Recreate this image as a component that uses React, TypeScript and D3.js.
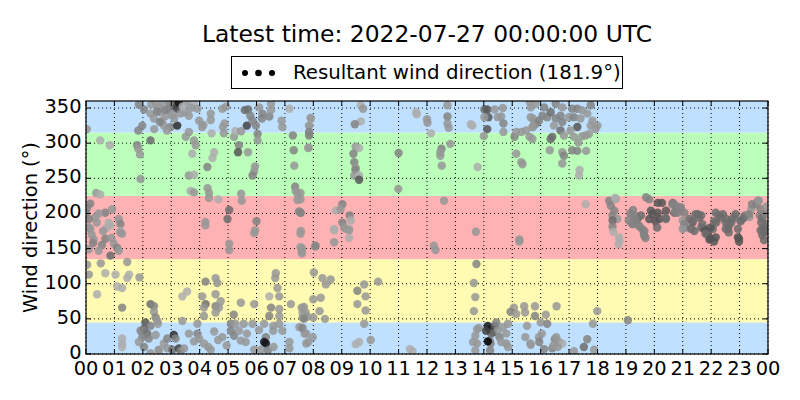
import React from 'react';
import * as d3 from 'd3';

// ---------- data ----------
const titleText = 'Latest time: 2022-07-27 00:00:00 UTC';
const legendText = 'Resultant wind direction (181.9°)';
const yLabel = 'Wind direction (°)';

const hourTicks: number[] = d3.range(0, 25);
const hourLabels: string[] = hourTicks.map((h) => String(h % 24).padStart(2, '0'));
const dirTicks: number[] = [0, 50, 100, 150, 200, 250, 300, 350];

const sectorBounds: number[] = [0, 45, 135, 225, 315, 360];
const sectorColors: string[] = ['#bfe0ff', '#fffbb3', '#ffb2b3', '#bbffbb', '#bfe0ff'];

// [hour, direction (deg), wind speed]
type Obs = [number, number, number];

const obs00to02: Obs[] = [
  [0.03,320,3],[0.5,304,2],[0.84,297,2],
  [0.36,229,3],[0.5,227,2],[0.15,214,4],[0.04,208,4],
  [0.0,201,4],[0.32,194,3],[0.68,201,4],[0.92,206,3],[0.1,192,4],[0.38,187,3],[0.8,187,2],[1.15,192,3],[1.21,185,4],[0.15,178,3],[0.74,180,2],[1.2,175,2],
  [0.1,180,3],[0.86,183,2],[1.21,173,3],[0.27,163,3],[0.68,164,4],[0.98,157,3],[0.56,155,4],[1.1,151,4],[0.1,149,3],[0.45,147,3],[0.86,140,5],[1.15,147,3],[1.45,131,3],[0.04,127,3],[0.52,129,3],[1.27,171,3],
  [0.2,170,3],[0.6,175,3],[0.9,165,3],[0.45,200,3],[0.25,158,4],
  [0.1,113,3],[0.68,115,2],[1.04,113,2],[1.52,113,2],[1.45,108,2],[1.1,96,2],[1.27,94,2],[0.39,85,2],[1.27,66,4],[1.88,109,3],
  [1.27,22,2],[1.27,15,2],[1.27,10,2],
  [1.86,355,4],[1.98,325,4],[1.84,318,4],[2.27,304,5],[1.8,297,4],[1.84,292,3],[1.9,284,3],[1.92,249,3],
];

const obs02to04: Obs[] = [
  [2.04,348,4],[2.27,342,3],[2.39,335,3],[2.56,351,3],[2.62,344,3],[2.68,332,3],[2.74,325,3],[2.82,339,3],[2.92,349,4],[2.98,323,4],[3.09,354,5],[3.15,356,7],[3.2,349,7],[3.21,325,8],[3.27,358,9],[3.33,342,3],[3.48,344,3],[3.62,339,3],[3.56,358,3],[3.8,358,2],[3.92,349,3],[3.98,332,3],[3.62,316,3],[3.51,309,3],[3.8,304,3],[3.86,297,3],[3.74,285,2],[3.62,254,3],[3.8,255,2],[3.68,232,2],[3.8,230,3],
  [2.3,355,3],[2.45,358,3],[2.5,345,4],[2.7,355,3],[2.8,347,4],[2.95,358,4],[3.05,340,3],[2.6,330,4],[2.4,320,3],[2.85,318,3],[3.1,335,3],[3.4,352,2],[3.7,350,3],
  [2.09,45,6],[2.27,40,4],[2.04,36,5],[1.92,33,4],[2.16,29,5],[1.98,24,4],[2.21,22,4],[1.86,17,3],[2.04,10,4],[2.45,27,3],[2.56,6,3],[2.74,15,3],[2.86,22,4],[3.09,27,8],[3.15,22,4],[2.86,8,3],[3.04,6,5],[3.27,8,7],[3.33,4,4],[3.45,8,3],[3.62,29,3],[3.8,18,3],[3.92,43,3],[3.92,29,4],[3.98,22,3],[2.27,1,3],[2.56,5,3],
  [2.27,71,5],[2.39,68,4],[2.39,60,3],[2.45,52,4],[2.51,47,3],[2.53,43,3],[3.39,82,2],[3.56,89,2],[3.39,47,3],
];

const obs04to06: Obs[] = [
  [4.09,323,3],[4.39,342,3],[4.39,333,3],[4.13,326,3],[4.42,314,2],[4.51,287,2],[4.45,279,2],[4.27,266,4],[4.28,236,3],[4.33,229,3],[4.33,222,3],[4.66,220,2],[4.8,349,3],[4.93,352,3],[4.82,323,3],[4.88,328,3],[4.85,314,3],[5.21,309,3],[5.26,317,2],[5.38,297,4],[5.35,287,6],[5.46,317,3],[5.7,287,3],[5.59,347,5],[5.7,348,5],[5.78,339,4],[5.66,325,7],[5.86,332,4],[5.98,325,4],[6.04,313,4],[6.09,351,3],[5.95,267,3],[5.92,260,3],[5.86,254,4],[5.46,228,3],[5.48,218,3],
  [5.04,205,5],[4.98,192,5],[4.2,188,3],[6.0,189,4],[5.95,176,3],[5.92,172,3],[5.04,157,3],[5.04,148,3],[4.2,183,3],
  [4.09,82,3],[4.21,71,5],[4.15,66,3],[4.15,54,3],[4.21,103,4],[4.56,108,3],[4.62,101,3],[4.56,85,3],[4.56,68,4],[4.56,59,3],[4.74,75,3],[4.68,66,3],[5.45,73,3],[5.92,71,3],[5.2,56,4],[5.1,43,4],
  [4.15,15,3],[4.39,6,3],[4.51,32,3],[4.8,24,3],[5.1,33,4],[5.21,26,4],[5.26,43,3],[5.38,33,3],[5.55,43,3],[5.66,29,3],[5.45,19,3],[5.62,17,3],[5.86,43,3],[4.3,10,3],[4.65,20,3],[4.95,12,3],
];

const obs06to08: Obs[] = [
  [6.19,335,4],[6.21,342,4],[6.04,304,3],[6.51,356,3],[6.45,338,4],[6.51,347,3],[6.88,332,3],[6.91,323,3],[7.16,349,2],[7.28,311,4],[7.31,290,4],[7.33,268,3],[7.36,238,4],[7.38,232,3],[7.44,228,3],[7.44,219,3],[7.5,203,4],[7.86,325,2],[7.86,313,2],[7.92,335,2],[7.84,294,2],
  [7.56,201,3],[7.56,175,3],[7.59,145,3],[7.55,152,3],[8.06,153,3],[7.55,171,3],[7.6,150,3],[7.6,143,3],[7.55,229,3],[7.55,220,3],[7.55,201,4],
  [6.68,115,3],[6.66,108,3],[6.74,94,3],[6.8,82,3],[6.45,82,2],[6.51,66,4],[6.45,54,4],[7.21,71,3],[6.8,64,3],[6.8,54,3],[7.59,66,3],[7.62,59,3],[7.62,52,3],[8.0,78,3],[8.0,52,3],[7.67,67,3],[7.73,59,3],[7.79,53,3],
  [6.09,34,3],[6.27,43,3],[6.33,24,4],[6.27,17,9],[6.33,15,9],[6.15,6,3],[5.92,6,3],[6.59,40,3],[6.59,33,3],[6.8,43,3],[6.91,33,3],[7.16,17,3],[7.16,8,3],[7.51,38,3],[7.69,29,3],[7.75,15,3],[7.98,24,3],[7.67,50,4],[7.62,37,4],[7.75,29,3],[7.82,17,3],[6.4,5,4],[6.6,10,3],
  [7.9,336,3],[7.85,325,3],[7.85,316,4],[7.85,311,4],[7.82,293,3],
];

const obs08to12: Obs[] = [
  [9.67,354,2],[9.75,349,3],[9.67,331,2],[9.46,327,4],[9.49,295,3],[9.61,293,2],[9.41,285,4],[9.44,273,4],[9.49,265,3],[9.48,262,4],[9.44,254,3],[9.61,254,2],[9.61,248,6],[11.0,286,4],[10.99,235,3],[11.62,344,2],[11.64,341,2],[12.0,334,3],[12.02,329,3],[12.14,314,2],
  [9.02,213,4],[8.79,204,2],[8.96,206,3],[9.28,197,4],[9.32,190,2],[9.02,187,4],[9.16,178,3],[9.26,178,2],[8.73,178,2],[8.73,176,2],[9.08,180,3],[9.26,176,3],[9.26,165,2],[8.73,159,3],[8.08,154,4],[12.24,154,3],[12.3,148,3],
  [8.02,116,3],[8.32,108,3],[8.61,106,3],[8.44,99,3],[10.28,103,3],[9.79,99,3],[9.55,90,4],[9.84,82,3],[9.55,71,3],[9.84,62,3],[8.26,80,3],[8.22,61,3],[8.41,50,3],
  [9.79,43,3],[9.61,17,2],[9.49,14,2],[10.02,20,3],[11.4,7,2],[11.49,4,2],
];

const obs12to16: Obs[] = [
  [12.72,354,3],[12.72,338,4],[12.72,328,3],[12.76,322,3],[12.51,292,4],[12.47,287,3],[12.47,282,3],[12.52,268,3],[12.82,299,3],[12.6,218,3],[13.54,327,2],[13.6,325,2],[13.78,266,2],[14.02,348,5],[14.12,348,6],[14.16,337,6],[14.02,337,3],[14.12,320,6],[14.0,310,3],[14.38,348,3],[14.49,337,3],[14.61,338,3],[14.67,350,3],[14.69,328,4],[14.69,316,3],[15.08,309,4],[15.14,316,3],[15.32,316,3],[15.49,318,3],[15.61,309,3],[15.73,323,3],[15.73,335,3],[15.85,328,4],[15.61,359,3],[15.14,285,3],[15.32,273,3],[15.36,270,3],
  [13.72,174,3],[15.25,160,3],[15.25,163,3],
  [13.74,128,4],[13.65,101,3],[13.7,81,3],[13.65,61,3],[15.06,66,3],[14.94,60,4],[15.14,57,3],[15.42,68,3],[15.45,59,3],
  [13.76,35,3],[13.82,37,3],[13.7,26,3],[13.62,17,3],[13.76,15,3],[13.7,5,3],[14.21,19,4],[14.24,15,4],[14.14,40,9],[14.2,35,9],[14.14,18,10],[14.32,31,7],[14.38,40,6],[14.44,45,4],[14.49,33,3],[14.55,24,4],[14.67,38,3],[14.79,29,3],[14.85,43,3],[14.61,17,3],[14.79,15,3],[14.85,10,3],[14.22,5,4],[14.26,29,5],[15.52,40,3],[15.46,24,3],[15.64,15,3],[15.94,24,3],[14.08,33,7],
];

const obs16to19: Obs[] = [
  [15.65,351,3],[15.82,356,3],[16.12,351,4],[16.53,356,4],[16.76,351,3],[17.11,349,4],[17.29,349,4],[17.46,347,3],[17.76,354,4],[15.65,337,3],[15.77,330,3],[15.71,323,3],[15.94,332,4],[16.06,339,4],[16.23,337,4],[16.35,344,5],[16.53,335,4],[16.7,339,4],[16.76,330,4],[16.47,325,3],[16.99,337,3],[17.17,337,4],[17.4,335,3],[17.64,342,3],[17.82,332,3],[17.76,325,3],[18.0,325,3],[17.93,320,3],[17.29,323,6],[17.05,318,3],[16.7,318,5],[16.82,311,3],[17.17,309,3],[17.46,310,3],[17.58,311,3],[17.7,313,3],[17.33,301,3],[15.71,306,3],[16.35,306,5],[16.41,309,5],[16.32,290,3],[16.76,287,3],[16.82,282,4],[16.76,271,3],[17.11,290,4],[17.29,289,4],[17.6,289,3],[17.37,262,2],[17.35,254,2],
  [17.58,213,2],
  [15.8,68,3],[16.56,68,3],[15.8,54,4],[16.18,56,3],[16.0,45,3],[16.23,43,4],[17.99,61,3],[17.84,43,3],[19.07,48,4],[16.04,29,3],[15.95,17,4],[15.65,13,3],[16.12,7,4],[16.41,8,4],[16.5,21,4],[16.55,24,3],[16.64,17,3],[16.76,15,2],[16.45,12,3],[16.6,10,3],[17.64,21,4],[17.52,10,5],[17.17,4,3],[17.88,6,3],
];

const obs18to24: Obs[] = [
  [18.41,218,4],[18.64,221,3],[18.47,211,4],[18.59,204,4],[18.53,197,4],[18.7,192,3],[18.53,190,5],[18.53,181,4],[18.56,174,2],[18.76,166,2],[18.74,156,2],[18.78,161,2],[18.62,222,2],
  [19.71,223,4],[19.82,220,4],[20.12,215,6],[20.27,215,6],[20.65,215,5],[20.76,211,4],[20.94,206,3],[19.29,197,4],[19.24,185,4],[19.3,190,4],[19.41,192,5],[19.53,197,5],[19.47,182,4],[19.65,175,4],[19.65,168,4],[19.82,192,6],[19.88,204,6],[19.94,199,6],[20.12,201,6],[20.18,192,6],[20.41,204,6],[20.41,192,5],[20.71,201,5],[20.82,201,4],[21.06,201,4],[21.0,190,3],[21.04,180,3],[21.24,192,5],[21.35,187,5],[21.53,199,5],[21.65,197,5],[21.41,175,5],[21.65,180,5],[21.76,178,6],[21.88,170,6],[21.94,163,6],[22.06,178,5],[22.18,187,5],[22.29,197,5],[22.41,199,5],[22.53,192,5],[22.59,178,5],[22.71,187,5],[22.82,195,4],[22.94,178,5],[22.94,166,6],[23.06,190,4],[23.18,197,4],[23.35,195,3],[23.41,206,3],[23.59,213,4],[23.65,218,4],[23.71,197,4],[23.76,187,5],[23.82,178,5],[23.86,173,5],
  [19.57,178,4],[19.63,171,4],[19.69,165,4],[19.34,192,4],[19.22,185,4],[19.46,182,4],[20.04,189,6],[20.1,180,5],[20.4,194,5],[20.63,213,4],[20.75,204,4],[20.93,209,4],[21.05,185,4],[21.11,180,4],[21.34,189,5],[21.45,199,5],[21.57,194,5],[21.69,185,5],[21.8,175,6],[21.98,180,6],[22.1,189,5],[22.16,201,5],[22.33,194,5],[22.51,187,5],[22.62,182,5],[22.74,192,5],[22.86,199,5],[23.03,189,5],[23.15,194,5],[23.33,199,4],[23.44,213,4],[23.68,218,3],[23.74,206,4],[23.8,194,5],[23.86,180,5],[21.0,178,3],[21.3,178,5],[21.8,171,5],[21.98,164,6],[22.1,160,6],[22.16,166,6],[22.51,178,5],[22.62,173,5],[22.98,164,6],[22.98,160,6],[23.74,176,5],[23.8,169,5],[23.86,162,5],[23.95,185,5],[23.95,175,5],[23.9,200,4],[23.95,210,3],
  [19.1,190,4],[19.15,200,4],[19.25,205,4],
];

const allObs: Obs[] = [
  ...obs00to02, ...obs02to04, ...obs04to06, ...obs06to08,
  ...obs08to12, ...obs12to16, ...obs16to19, ...obs18to24,
];

// ---------- layout ----------
const W = 800;
const H = 400;
const margin = { left: 86, right: 32, top: 101, bottom: 46 };
const FONT = 'DejaVu Sans, sans-serif';

export default function App() {
  const x = d3.scaleLinear().domain([0, 24]).range([margin.left, W - margin.right]);
  const y = d3.scaleLinear().domain([0, 360]).range([H - margin.bottom, margin.top]);
  const color = d3.scaleLinear<string>().domain([0, 10]).range(['#d8d8d8', '#000000']);

  const x0 = x(0), x1 = x(24), y0 = y(0), y1 = y(360);
  const tickLen = 5;
  const cx = (x0 + x1) / 2;

  return (
    <svg width={W} height={H} style={{ position: 'absolute', left: 0, top: 0, background: '#fff' }}
      fontFamily={FONT}>
      <rect x={0} y={0} width={W} height={H} fill="#fff" />
      <text x={cx} y={42} textAnchor="middle" fontSize={23.4} fill="#000">{titleText}</text>

      {/* legend */}
      <rect x={231.5} y={56.5} width={391} height={32} fill="#fff" stroke="#000" strokeWidth={1} />
      {[245, 258.5, 272].map((lx, i) => (
        <circle key={i} cx={lx} cy={73} r={i === 1 ? 3.3 : 3} fill="#000" />
      ))}
      <text x={293} y={78.5} fontSize={19.8} fill="#000">{legendText}</text>

      {/* sectors */}
      {sectorColors.map((c, i) => (
        <rect key={i} x={x0} width={x1 - x0} y={y(sectorBounds[i + 1])}
          height={y(sectorBounds[i]) - y(sectorBounds[i + 1])} fill={c} />
      ))}

      {/* grid */}
      {hourTicks.map((h) => (
        <line key={'gx' + h} x1={x(h)} x2={x(h)} y1={y0} y2={y1} stroke="#000" strokeWidth={1}
          strokeDasharray="1,3" />
      ))}
      {dirTicks.map((d) => (
        <line key={'gy' + d} x1={x0} x2={x1} y1={y(d)} y2={y(d)} stroke="#000" strokeWidth={1}
          strokeDasharray="1,3" />
      ))}

      {/* points */}
      <defs>
        <clipPath id="plotclip">
          <rect x={x0} y={y1} width={x1 - x0} height={y0 - y1} />
        </clipPath>
      </defs>
      <g clipPath="url(#plotclip)">
        {allObs.map(([h, d, s], i) => (
          <circle key={i} cx={x(h)} cy={y(d)} r={4.2} fill={color(s)} fillOpacity={0.85} />
        ))}
      </g>

      {/* ticks */}
      {hourTicks.map((h) => (
        <g key={'tx' + h}>
          <line x1={x(h)} x2={x(h)} y1={y0} y2={y0 - tickLen} stroke="#000" />
          <line x1={x(h)} x2={x(h)} y1={y1} y2={y1 + tickLen} stroke="#000" />
        </g>
      ))}
      {dirTicks.map((d) => (
        <g key={'ty' + d}>
          <line x1={x0} x2={x0 + tickLen} y1={y(d)} y2={y(d)} stroke="#000" />
          <line x1={x1} x2={x1 - tickLen} y1={y(d)} y2={y(d)} stroke="#000" />
        </g>
      ))}

      {/* frame */}
      <rect x={x0} y={y1} width={x1 - x0} height={y0 - y1} fill="none" stroke="#000" strokeWidth={1.2} />

      {/* tick labels */}
      {hourTicks.map((h, i) => (
        <text key={'lx' + h} x={x(h)} y={y0 + 21} textAnchor="middle" fontSize={19.4} fill="#000">
          {hourLabels[i]}
        </text>
      ))}
      {dirTicks.map((d) => (
        <text key={'ly' + d} x={x0 - 4.5} y={y(d) + 5} textAnchor="end" fontSize={19.4} fill="#000">
          {d}
        </text>
      ))}

      <text transform={`translate(37,${(y0 + y1) / 2}) rotate(-90)`} textAnchor="middle" fontSize={19.4}
        fill="#000">{yLabel}</text>
    </svg>
  );
}
